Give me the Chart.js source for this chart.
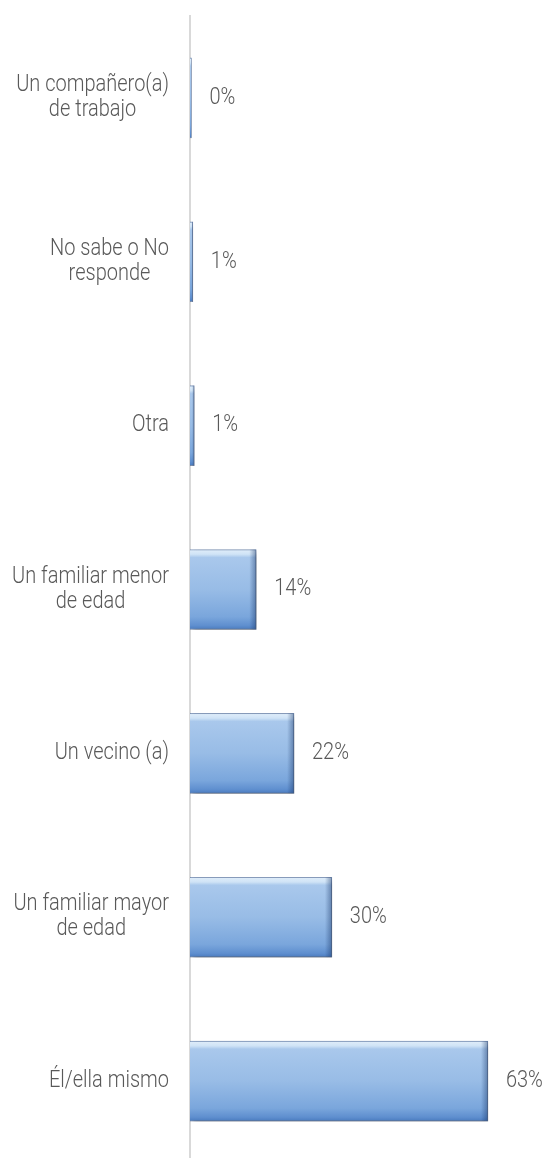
<!DOCTYPE html>
<html>
<head>
<meta charset="utf-8">
<script src="https://cdn.jsdelivr.net/npm/chart.js@4/dist/chart.umd.min.js"></script>
<style>
html, body { margin: 0; padding: 0; background: #ffffff; overflow: hidden; }
#wrap { position: relative; width: 548px; height: 1166px; }
</style>
</head>
<body>
<div id="wrap"><canvas id="c"></canvas></div>
<script>
const categories = [
  ["Un compañero(a)", "de trabajo"],
  ["No sabe o No", "responde"],
  ["Otra"],
  ["Un familiar menor", "de edad"],
  ["Un vecino (a)"],
  ["Un familiar mayor", "de edad"],
  ["Él/ella mismo"]
];
const values = [0.3, 0.6, 0.9, 14, 22, 30, 63];
const valueLabels = ["0%", "1%", "1%", "14%", "22%", "30%", "63%"];
const xMin = 0;
const xMax = 70;

const BAR_T = 80;
const TEXT_COLOR = '#595959';
const FONT = '300 20px Roboto, "Liberation Sans", sans-serif';
const Y_STRETCH = 1.15;

function barFill(c) {
  const chart = c.chart;
  const ys = chart.scales && chart.scales.y;
  if (!ys || c.dataIndex === undefined) return '#98bce6';
  const y = ys.getPixelForValue(c.dataIndex);
  if (!isFinite(y)) return '#98bce6';
  const h = BAR_T;
  const g = chart.ctx.createLinearGradient(0, y - h / 2, 0, y + h / 2);
  g.addColorStop(0, '#8fb0d8');
  g.addColorStop(0.015, '#dcebf9');
  g.addColorStop(0.06, '#cfe3f6');
  g.addColorStop(0.1, '#a9c8ec');
  g.addColorStop(0.5, '#98bce6');
  g.addColorStop(0.84, '#7aa6dc');
  g.addColorStop(0.95, '#5f8fcf');
  g.addColorStop(1, '#4a7bbf');
  return g;
}

function drawStretched(ctx, text, x, y, align) {
  ctx.save();
  ctx.translate(x, y);
  ctx.scale(1, Y_STRETCH);
  ctx.textAlign = align;
  ctx.textBaseline = 'middle';
  ctx.fillText(text, 0, 0);
  ctx.restore();
}

const decor = {
  id: 'decor',
  beforeDatasetsDraw(chart) {
    const ctx = chart.ctx;
    ctx.save();
    ctx.shadowColor = 'rgba(0,0,0,0.4)';
    ctx.shadowBlur = 6;
    ctx.shadowOffsetX = 2;
    ctx.shadowOffsetY = 3;
  },
  afterDatasetsDraw(chart) {
    const ctx = chart.ctx;
    ctx.restore();
    const meta = chart.getDatasetMeta(0);
    meta.data.forEach((el) => {
      const p = el.getProps(['x', 'y', 'base', 'height'], true);
      const left = Math.min(p.base, p.x), right = Math.max(p.base, p.x);
      const top = p.y - p.height / 2;
      const w = Math.min(7, (right - left) / 2);
      if (!(w > 0)) return;
      const g = ctx.createLinearGradient(right - w, 0, right, 0);
      g.addColorStop(0, 'rgba(20,50,100,0)');
      g.addColorStop(1, 'rgba(20,50,100,0.45)');
      ctx.fillStyle = g;
      ctx.fillRect(right - w, top, w, p.height);
    });
  },
  afterDraw(chart) {
    const ctx = chart.ctx;
    const ys = chart.scales.y;
    const meta = chart.getDatasetMeta(0);
    ctx.save();
    ctx.font = FONT;
    ctx.fillStyle = TEXT_COLOR;
    const lineH = 25;
    const rightEdge = 169;
    categories.forEach((lines, i) => {
      const y = ys.getPixelForTick(i);
      let bw = 0;
      lines.forEach(l => { bw = Math.max(bw, ctx.measureText(l).width); });
      const cx = rightEdge - bw / 2;
      lines.forEach((l, j) => {
        const ly = y + (j - (lines.length - 1) / 2) * lineH;
        drawStretched(ctx, l, cx, ly, 'center');
      });
      const el = meta.data[i];
      drawStretched(ctx, valueLabels[i], el.x + 18, el.y, 'left');
    });
    ctx.restore();
  }
};

new Chart(document.getElementById('c'), {
  type: 'bar',
  data: {
    labels: categories,
    datasets: [{
      data: values,
      backgroundColor: barFill,
      borderColor: 'rgba(70,105,160,0.6)',
      borderWidth: 1,
      barThickness: BAR_T
    }]
  },
  options: {
    indexAxis: 'y',
    responsive: true,
    maintainAspectRatio: false,
    animation: false,
    events: [],
    layout: { padding: { left: 182, right: 27, top: 16, bottom: 3 } },
    plugins: { legend: { display: false }, tooltip: { enabled: false } },
    scales: {
      x: { display: false, min: xMin, max: xMax },
      y: {
        grid: { display: false },
        ticks: { display: false },
        border: { display: true, color: '#d9d9d9', width: 2 }
      }
    }
  },
  plugins: [decor]
});
</script>
</body>
</html>
